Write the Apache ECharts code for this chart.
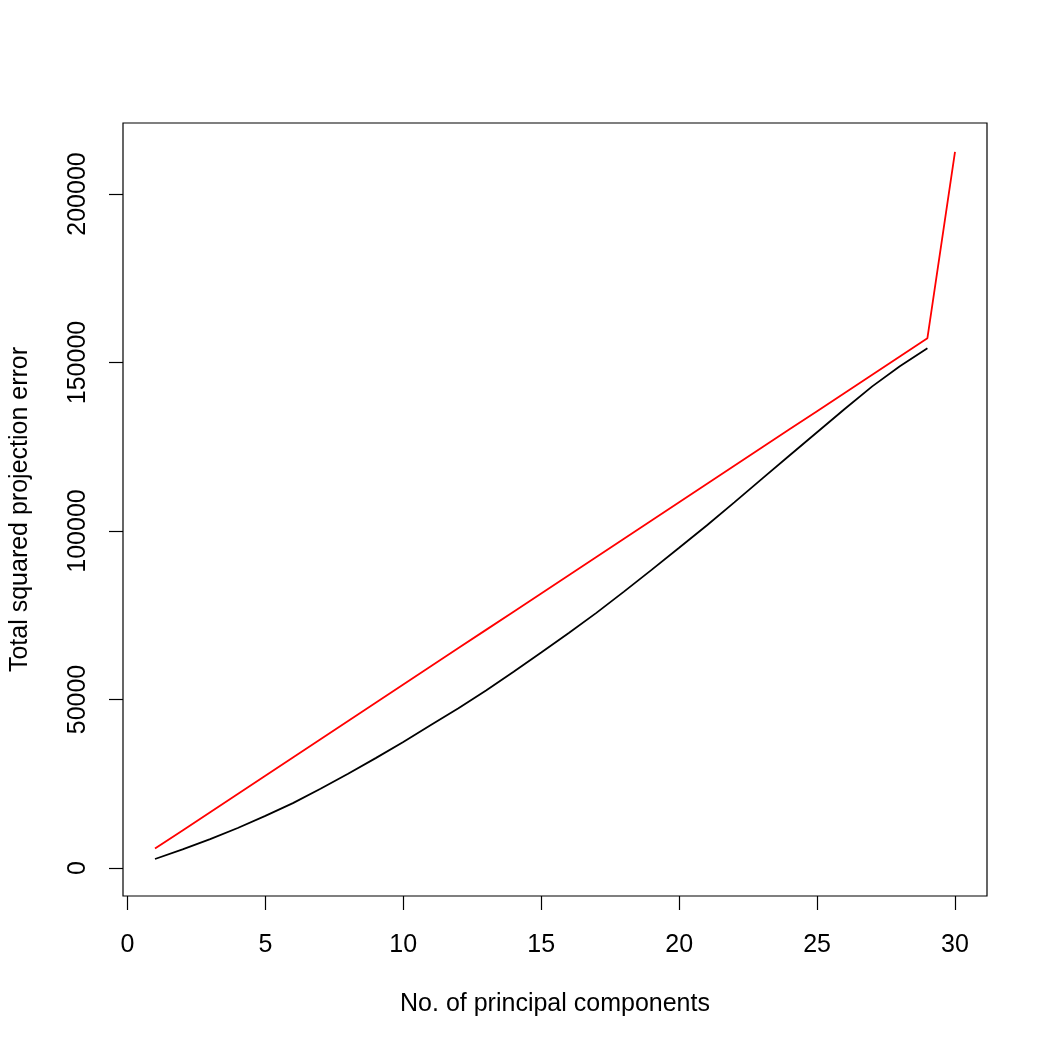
<!DOCTYPE html>
<html>
<head>
<meta charset="utf-8">
<script src="https://cdn.jsdelivr.net/npm/echarts@6/dist/echarts.min.js"></script>
<style>
  html, body { margin: 0; padding: 0; background: #fff; }
  #chart { width: 1050px; height: 1050px; }
</style>
</head>
<body>
<div id="chart"></div>
<script>
// number of principal components
var compsBlack = [1, 2, 3, 4, 5, 6, 7, 8, 9, 10, 11, 12, 13, 14, 15, 16, 17, 18, 19, 20, 21, 22, 23, 24, 25, 26, 27, 28, 29];
var compsRed = [1, 2, 3, 4, 5, 6, 7, 8, 9, 10, 11, 12, 13, 14, 15, 16, 17, 18, 19, 20, 21, 22, 23, 24, 25, 26, 27, 28, 29, 30];
// total squared projection error
var errBlack = [2670, 5500, 8550, 11880, 15450, 19260, 23510, 27960, 32610, 37410, 42420, 47410, 52660, 58250, 63950,
                69750, 75710, 82020, 88470, 95020, 101650, 108510, 115450, 122400, 129300, 136200, 142920, 148900, 154210];
var errRed = [5750, 11160, 16570, 21980, 27390, 32800, 38200, 43610, 49020, 54430, 59840, 65250, 70660, 76070, 81480,
              86890, 92290, 97700, 103110, 108520, 113930, 119340, 124750, 130160, 135570, 140980, 146390, 151790, 157200, 212500];
// tick labels
var xTicks = [0, 5, 10, 15, 20, 25, 30];
var yTicks = [0, 50000, 100000, 150000, 200000];

function pairs(xs, ys) {
    var out = [];
    for (var i = 0; i < xs.length; i++) out.push([xs[i], ys[i]]);
    return out;
}

var myChart = echarts.init(document.getElementById('chart'));
var font = 'Liberation Sans, Arial, sans-serif';

var option = {
    animation: false,
    backgroundColor: '#fff',
    grid: {
        left: 123, right: 63, top: 123, bottom: 154,
        show: true, borderColor: '#000', borderWidth: 1.2, backgroundColor: 'transparent'
    },
    xAxis: {
        type: 'value',
        min: -0.16, max: 31.16,
        name: 'No. of principal components',
        nameLocation: 'middle',
        nameGap: 96,
        nameTextStyle: { color: '#000', fontSize: 25, fontFamily: font },
        axisLine: { show: false, onZero: false },
        axisTick: { show: true, length: 14, customValues: xTicks, lineStyle: { color: '#000', width: 1.2 } },
        axisLabel: {
            customValues: xTicks, margin: 37, color: '#000', fontSize: 25, fontFamily: font,
            formatter: function (v) { return String(v); }
        },
        splitLine: { show: false }
    },
    yAxis: {
        type: 'value',
        min: -8309, max: 221068,
        name: 'Total squared projection error',
        nameLocation: 'middle',
        nameGap: 90,
        nameRotate: 90,
        nameTextStyle: { color: '#000', fontSize: 25, fontFamily: font },
        axisLine: { show: false, onZero: false },
        axisTick: { show: true, length: 14, customValues: yTicks, lineStyle: { color: '#000', width: 1.2 } },
        axisLabel: {
            customValues: yTicks, rotate: 90, margin: 32, color: '#000', fontSize: 25, fontFamily: font,
            formatter: function (v) { return String(v); }
        },
        splitLine: { show: false }
    },
    series: [
        {
            name: 'black',
            type: 'line',
            data: pairs(compsBlack, errBlack),
            showSymbol: false,
            lineStyle: { color: '#000', width: 1.8 },
            itemStyle: { color: '#000' }
        },
        {
            name: 'red',
            type: 'line',
            data: pairs(compsRed, errRed),
            showSymbol: false,
            lineStyle: { color: '#ff0000', width: 1.8 },
            itemStyle: { color: '#ff0000' }
        }
    ]
};
myChart.setOption(option);
</script>
</body>
</html>
